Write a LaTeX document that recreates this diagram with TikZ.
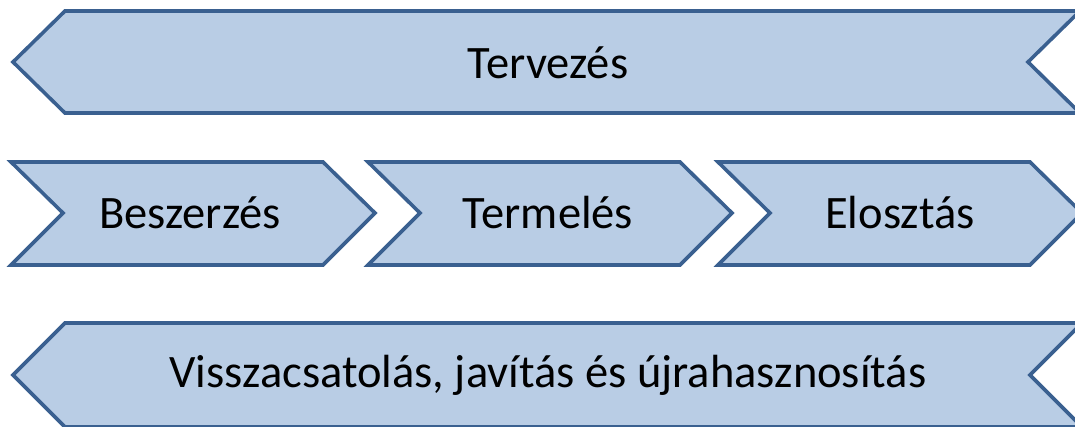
\documentclass[tikz,border=0pt]{standalone}
\usepackage{fontspec}
\setmainfont{Carlito}
\definecolor{arrfill}{HTML}{B9CDE5}
\definecolor{arrline}{HTML}{3A6090}
\begin{document}
\begin{tikzpicture}[x=1pt,y=-1pt,
  shapeline/.style={draw=arrline,fill=arrfill,line width=3.6pt,line join=miter},
  lbl/.style={font=\fontsize{46.5}{50}\selectfont,text=black,anchor=center}]
\useasboundingbox (0,0) rectangle (1075,426);
% top
\draw[shapeline] (65,11) -- (1080,11) -- (1028,62) -- (1080,113) -- (65,113) -- (13,62) -- cycle;
\node[lbl] (plan) at (548,63) {Tervezés};
% middle
\draw[shapeline] (11,162) -- (323,162) -- (375,213) -- (323,265) -- (11,265) -- (63,213) -- cycle;
\draw[shapeline] (368,162) -- (680,162) -- (732,213) -- (680,265) -- (368,265) -- (420,213) -- cycle;
\draw[shapeline] (718,162) -- (1030,162) -- (1082,213) -- (1030,265) -- (718,265) -- (770,213) -- cycle;
\node[lbl] (besz) at (190,213) {Beszerzés};
\node[lbl] (term) at (548,213) {Termelés};
\node[lbl] (elo) at (900,213) {Elosztás};
% bottom
\draw[shapeline] (65,323) -- (1082,323) -- (1030,375) -- (1082,427) -- (65,427) -- (13,375) -- cycle;
\node[lbl] (vissza) at (548,375) {Visszacsatolás, javítás és újrahasznosítás};
\end{tikzpicture}
\end{document}
